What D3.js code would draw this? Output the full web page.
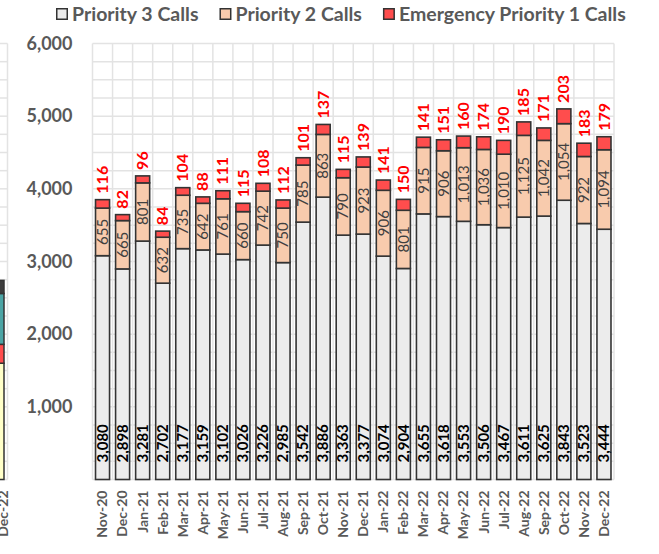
<!DOCTYPE html>
<html>
<head>
<meta charset="utf-8">
<script src="https://cdn.jsdelivr.net/npm/d3@7"></script>
<style>
  body { margin: 0; background: #fff; }
  svg { display: block; font-family: Lato, "Open Sans", sans-serif; }
</style>
</head>
<body>
<svg id="chart" width="659" height="554"></svg>
<script>
const months = ["Nov-20", "Dec-20", "Jan-21", "Feb-21", "Mar-21", "Apr-21", "May-21", "Jun-21",
  "Jul-21", "Aug-21", "Sep-21", "Oct-21", "Nov-21", "Dec-21", "Jan-22", "Feb-22", "Mar-22",
  "Apr-22", "May-22", "Jun-22", "Jul-22", "Aug-22", "Sep-22", "Oct-22", "Nov-22", "Dec-22"];
const priority3 = [3080, 2898, 3281, 2702, 3177, 3159, 3102, 3026, 3226, 2985, 3542, 3886, 3363,
  3377, 3074, 2904, 3655, 3618, 3553, 3506, 3467, 3611, 3625, 3843, 3523, 3444];
const priority2 = [655, 665, 801, 632, 735, 642, 761, 660, 742, 750, 785, 863, 790,
  923, 906, 801, 915, 906, 1013, 1036, 1010, 1125, 1042, 1054, 922, 1094];
const priority1 = [116, 82, 96, 84, 104, 88, 111, 115, 108, 112, 101, 137, 115,
  139, 141, 150, 141, 151, 160, 174, 190, 185, 171, 203, 183, 179];
const yTicks = [1000, 2000, 3000, 4000, 5000, 6000];
const seriesNames = ["Priority 3 Calls", "Priority 2 Calls", "Emergency Priority 1 Calls"];
const seriesColors = ["#ececec", "#f8cbad", "#ff4d4d"];

// the neighbouring chart that is cut off at the left edge
const prevMonth = "Dec-22";
const prevSegments = [1600, 260, 700, 180];
const prevColors = ["#ffffc8", "#ff4d4d", "#4ba4a4", "#3c3c3c"];

const svg = d3.select("#chart");
const margin = { top: 43.5, right: 45, bottom: 74.5, left: 92.5 };
const width = 659 - margin.left - margin.right;
const height = 554 - margin.top - margin.bottom;

const rows = months.map((m, i) => ({ month: m, p3: priority3[i], p2: priority2[i], p1: priority1[i] }));
const stacked = d3.stack().keys(["p3", "p2", "p1"])(rows);

const x = d3.scaleBand().domain(months).range([0, width]).paddingInner(0.3).paddingOuter(0.15);
const y = d3.scaleLinear().domain([0, 6000]).range([height, 0]);

const g = svg.append("g").attr("transform", `translate(${margin.left},${margin.top})`);

// grid
const grid = g.append("g").attr("stroke", "#e3e3e3").attr("stroke-width", 1.5);
grid.selectAll("line.h").data(d3.range(0, 6001, 250)).join("line")
  .attr("x1", 0).attr("x2", width)
  .attr("y1", d => y(d)).attr("y2", d => y(d));
grid.selectAll("line.v").data(d3.range(0, months.length + 1)).join("line")
  .attr("x1", d => d * width / months.length).attr("x2", d => d * width / months.length)
  .attr("y1", 0).attr("y2", height);

// y axis
const yAxis = g.append("g")
  .call(d3.axisLeft(y).tickValues(yTicks).tickSize(0).tickPadding(20).tickFormat(d3.format(",")));
yAxis.select(".domain").remove();
yAxis.selectAll("text").attr("font-size", 18).attr("font-weight", 700).attr("fill", "#595959")
  .attr("font-family", "Lato");

// x axis
const xAxis = g.append("g").attr("transform", `translate(0,${height})`)
  .call(d3.axisBottom(x).tickSize(0));
xAxis.select(".domain").remove();
xAxis.selectAll("text")
  .attr("font-size", 14).attr("font-weight", 700).attr("fill", "#595959").attr("font-family", "Lato")
  .attr("text-anchor", "end")
  .attr("transform", "rotate(-90)")
  .attr("x", -11).attr("y", 0).attr("dy", "0.35em");

// bars
const layers = g.selectAll("g.layer").data(stacked).join("g")
  .attr("fill", (d, i) => seriesColors[i]);
layers.selectAll("rect").data(d => d).join("rect")
  .attr("x", d => x(d.data.month))
  .attr("width", x.bandwidth())
  .attr("y", d => y(d[1]))
  .attr("height", d => y(d[0]) - y(d[1]))
  .attr("stroke", "#333").attr("stroke-width", 1.6);

const fmt = d3.format(",");
const labels = g.append("g").attr("font-family", "Lato").attr("font-size", 15);
// priority 3 near the base
labels.selectAll("text.p3").data(stacked[0]).join("text")
  .attr("transform", d => `translate(${x(d.data.month) + x.bandwidth() / 2},${y(0) - 17}) rotate(-90)`)
  .attr("dy", "0.35em").attr("font-weight", 700).attr("fill", "#000")
  .text(d => fmt(d.data.p3));
// priority 2 in the middle
labels.selectAll("text.p2").data(stacked[1]).join("text")
  .attr("transform", d => `translate(${x(d.data.month) + x.bandwidth() / 2},${y((d[0] + d[1]) / 2)}) rotate(-90)`)
  .attr("dy", "0.35em").attr("text-anchor", "middle").attr("fill", "#404040")
  .text(d => fmt(d.data.p2));
// priority 1 above the bar
labels.selectAll("text.p1").data(stacked[2]).join("text")
  .attr("transform", d => `translate(${x(d.data.month) + x.bandwidth() / 2},${y(d[1]) - 6}) rotate(-90)`)
  .attr("dy", "0.35em").attr("font-size", 16).attr("font-weight", 700).attr("fill", "#ff0000")
  .text(d => fmt(d.data.p1));

// legend
const legend = svg.append("g").attr("font-family", "Lato").attr("font-size", 19.5)
  .attr("font-weight", 700).attr("fill", "#595959");
let lx = 56;
seriesNames.forEach((name, i) => {
  const item = legend.append("g").attr("transform", `translate(${lx},0)`);
  item.append("rect").attr("x", 0.75).attr("y", 8.75).attr("width", 10.5).attr("height", 10.5)
    .attr("fill", seriesColors[i]).attr("stroke", "#333").attr("stroke-width", 1.5);
  const t = item.append("text").attr("x", 16).attr("y", 14).attr("dy", "0.35em").text(name);
  lx += 16 + t.node().getComputedTextLength() + 21;
});

// cut-off neighbour chart on the left
const prevRight = 7.5;
const prev = svg.append("g").attr("transform", `translate(0,${margin.top})`);
prev.selectAll("line.h").data(d3.range(0, 6001, 250)).join("line")
  .attr("x1", 0).attr("x2", prevRight).attr("y1", d => y(d)).attr("y2", d => y(d))
  .attr("stroke", "#e3e3e3").attr("stroke-width", 1.5);
prev.append("line").attr("x1", prevRight).attr("x2", prevRight).attr("y1", 0).attr("y2", height)
  .attr("stroke", "#e3e3e3").attr("stroke-width", 1.5);
const prevStack = d3.cumsum(prevSegments);
prev.selectAll("rect").data(prevSegments).join("rect")
  .attr("x", -10).attr("width", 14)
  .attr("y", (d, i) => y(prevStack[i]))
  .attr("height", d => y(0) - y(d))
  .attr("fill", (d, i) => prevColors[i]).attr("stroke", "#333").attr("stroke-width", 1.5);
prev.append("text")
  .attr("transform", `translate(3,${height + 11}) rotate(-90)`)
  .attr("text-anchor", "end").attr("dy", "0.35em")
  .attr("font-size", 14).attr("font-weight", 700).attr("fill", "#595959")
  .text(prevMonth);
</script>
</body>
</html>
